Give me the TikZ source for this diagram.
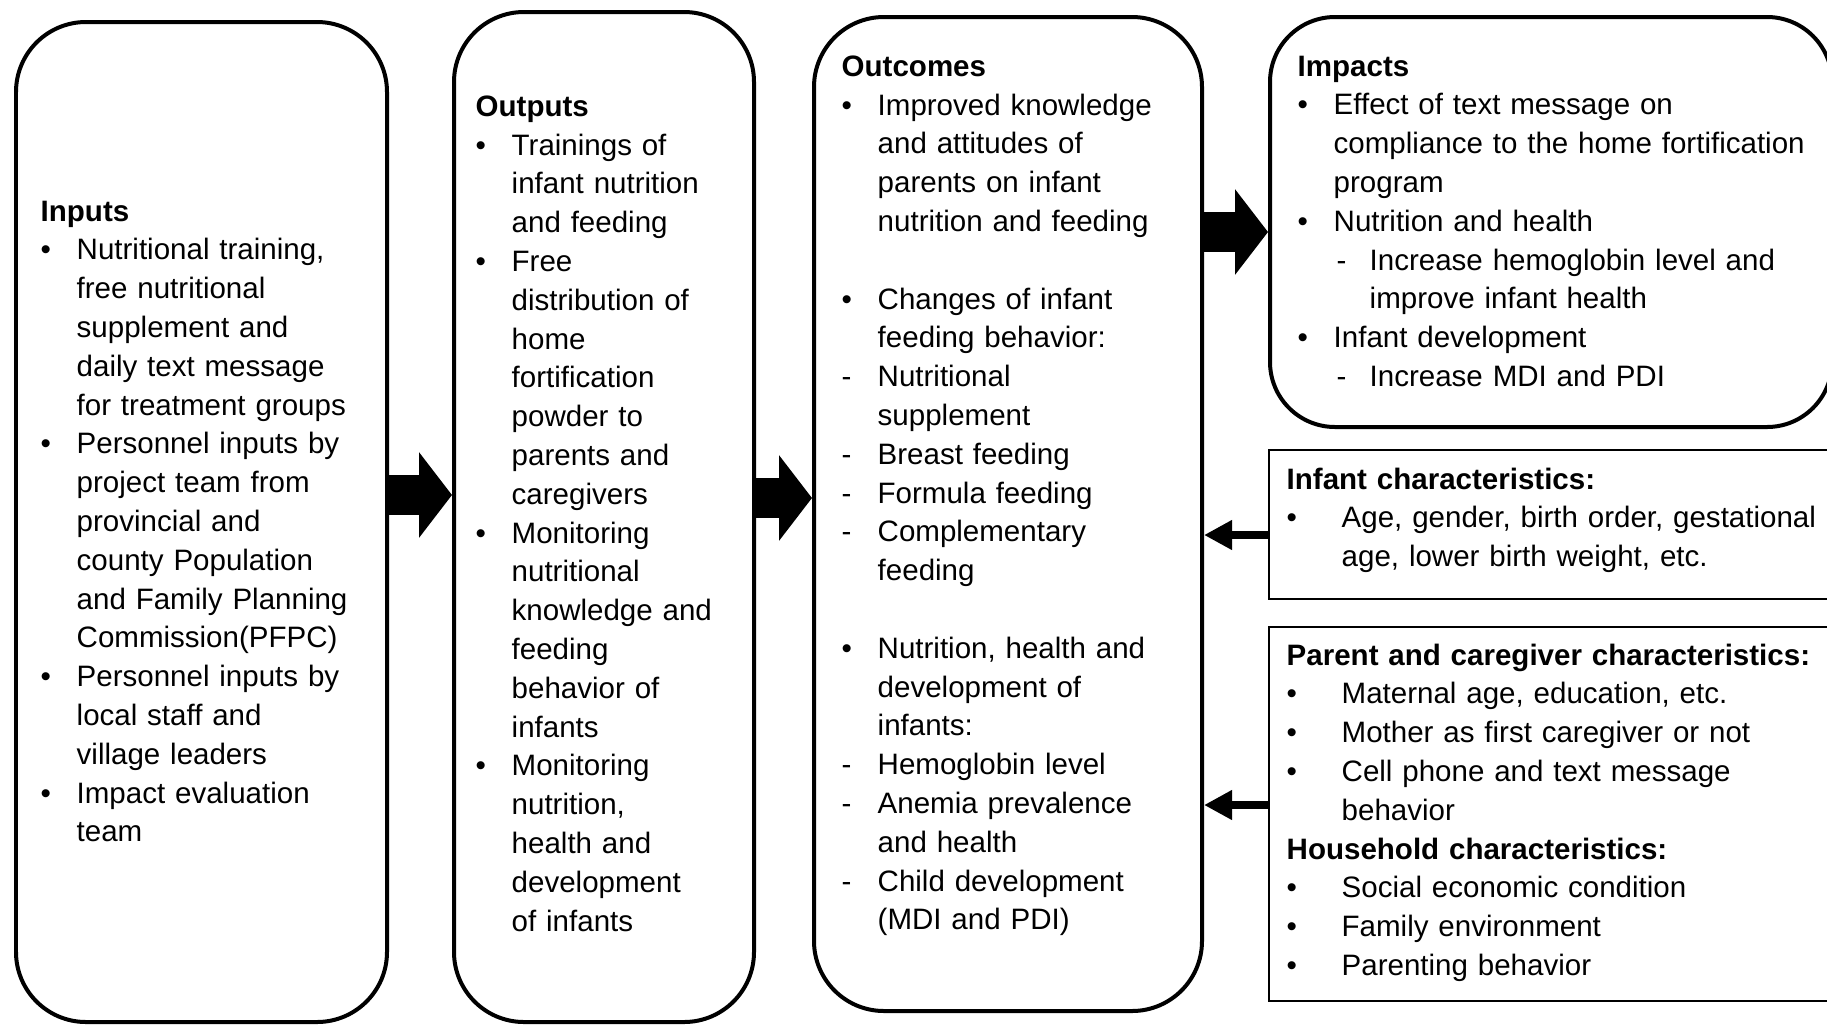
\documentclass[tikz,border=0pt]{standalone}
\usepackage{fontspec}
\setmainfont{Liberation Sans}
\usetikzlibrary{arrows.meta}

\newcommand{\bul}[2][0.36cm]{\par\hangindent=#1\hangafter=1\noindent\makebox[#1][l]{\textbullet}#2\par}
\newcommand{\dsh}[1]{\par\hangindent=0.36cm\hangafter=1\noindent\makebox[0.36cm][l]{-}#1\par}
\newcommand{\sbl}[1]{\par\hangindent=0.72cm\hangafter=1\noindent\hspace*{0.39cm}\makebox[0.33cm][l]{-}#1\par}
\newcommand{\gap}{\par\vspace{\baselineskip}}

\begin{document}
\begin{tikzpicture}[
    roundbox/.style={draw, line width=0.04cm, rounded corners=0.7cm, anchor=north west, inner sep=0pt},
    plainbox/.style={draw, line width=0.02cm, anchor=north west, inner sep=0pt},
    txt/.style={anchor=north west, inner sep=0pt, align=left, font=\fontsize{8.4pt}{11.04pt}\selectfont},
    blockarrow/.style={line width=0.4cm, -{Triangle[length=0.33cm,width=0.84cm]}},
    smallarrow/.style={line width=0.08cm, -{Triangle[length=0.28cm,width=0.28cm]}}
  ]
  \useasboundingbox (0,0) rectangle (18.27,-10.24);
  \clip (0,0) rectangle (18.27,-10.24);

  % Frames
  \node[roundbox, minimum width=3.71cm, minimum height=10cm] (inputs) at (0.14,-0.20) {};
  \node[roundbox, minimum width=3.00cm, minimum height=10.1cm] (outputs) at (4.52,-0.10) {};
  \node[roundbox, minimum width=3.88cm, minimum height=9.94cm] (outcomes) at (8.12,-0.15) {};
  \node[roundbox, rounded corners=0.65cm, minimum width=5.62cm, minimum height=4.10cm] (impacts) at (12.68,-0.15) {};
  \node[plainbox, minimum width=5.8cm, minimum height=1.49cm] (infant) at (12.68,-4.49) {};
  \node[plainbox, minimum width=5.8cm, minimum height=3.74cm] (parent) at (12.68,-6.26) {};

  % Inputs
  \node[txt, text width=3.3cm] (inputsText) at (0.40,-2.00) {\textbf{Inputs}
    \bul{Nutritional training,\newline free nutritional\newline supplement and\newline daily text message\newline for treatment groups}
    \bul{Personnel inputs by\newline project team from\newline provincial and\newline county Population\newline and Family Planning\newline Commission(PFPC)}
    \bul{Personnel inputs by\newline local staff and\newline village leaders}
    \bul{Impact evaluation\newline team}};

  % Outputs
  \node[txt, text width=2.6cm] (outputsText) at (4.75,-0.95) {\textbf{Outputs}
    \bul{Trainings of\newline infant nutrition\newline and feeding}
    \bul{Free\newline distribution of\newline home\newline fortification\newline powder to\newline parents and\newline caregivers}
    \bul{Monitoring\newline nutritional\newline knowledge and\newline feeding\newline behavior of\newline infants}
    \bul{Monitoring\newline nutrition,\newline health and\newline development\newline of infants}};

  % Outcomes
  \node[txt, text width=3.3cm] (outcomesText) at (8.41,-0.55) {\textbf{Outcomes}
    \bul{Improved knowledge\newline and attitudes of\newline parents on infant\newline nutrition and feeding}
    \gap
    \bul{Changes of infant\newline feeding behavior:}
    \dsh{Nutritional\newline supplement}
    \dsh{Breast feeding}
    \dsh{Formula feeding}
    \dsh{Complementary\newline feeding}
    \gap
    \bul{Nutrition, health and\newline development of\newline infants:}
    \dsh{Hemoglobin level}
    \dsh{Anemia prevalence\newline and health}
    \dsh{Child development\newline (MDI and PDI)}};

  % Impacts
  \node[txt, text width=5.3cm] (impactsText) at (12.97,-0.55) {\textbf{Impacts}
    \bul{Effect of text message on\newline compliance to the home fortification\newline program}
    \bul{Nutrition and health}
    \sbl{Increase hemoglobin level and\newline improve infant health}
    \bul{Infant development}
    \sbl{Increase MDI and PDI}};

  % Characteristics
  \node[txt, text width=5.4cm] (infantText) at (12.86,-4.67) {\textbf{Infant characteristics:}
    \bul[0.55cm]{Age, gender, birth order, gestational\newline age, lower birth weight, etc.}};
  \node[txt, text width=5.4cm] (parentText) at (12.86,-6.43) {\textbf{Parent and caregiver characteristics:}
    \bul[0.55cm]{Maternal age, education, etc.}
    \bul[0.55cm]{Mother as first caregiver or not}
    \bul[0.55cm]{Cell phone and text message\newline behavior}
    \textbf{Household characteristics:}
    \bul[0.55cm]{Social economic condition}
    \bul[0.55cm]{Family environment}
    \bul[0.55cm]{Parenting behavior}};

  % Arrows
  \draw[blockarrow] (inputs.east |- 0,-4.95) -- (outputs.west |- 0,-4.95);
  \draw[blockarrow] (outputs.east |- 0,-4.98) -- (outcomes.west |- 0,-4.98);
  \draw[blockarrow] (outcomes.east |- 0,-2.32) -- (impacts.west |- 0,-2.32);
  \draw[smallarrow] ([yshift=-0.105cm]infant.west) -- ([yshift=-0.105cm]infant.west -| outcomes.east);
  \draw[smallarrow] ([yshift=0.09cm]parent.west) -- ([yshift=0.09cm]parent.west -| outcomes.east);
\end{tikzpicture}
\end{document}
